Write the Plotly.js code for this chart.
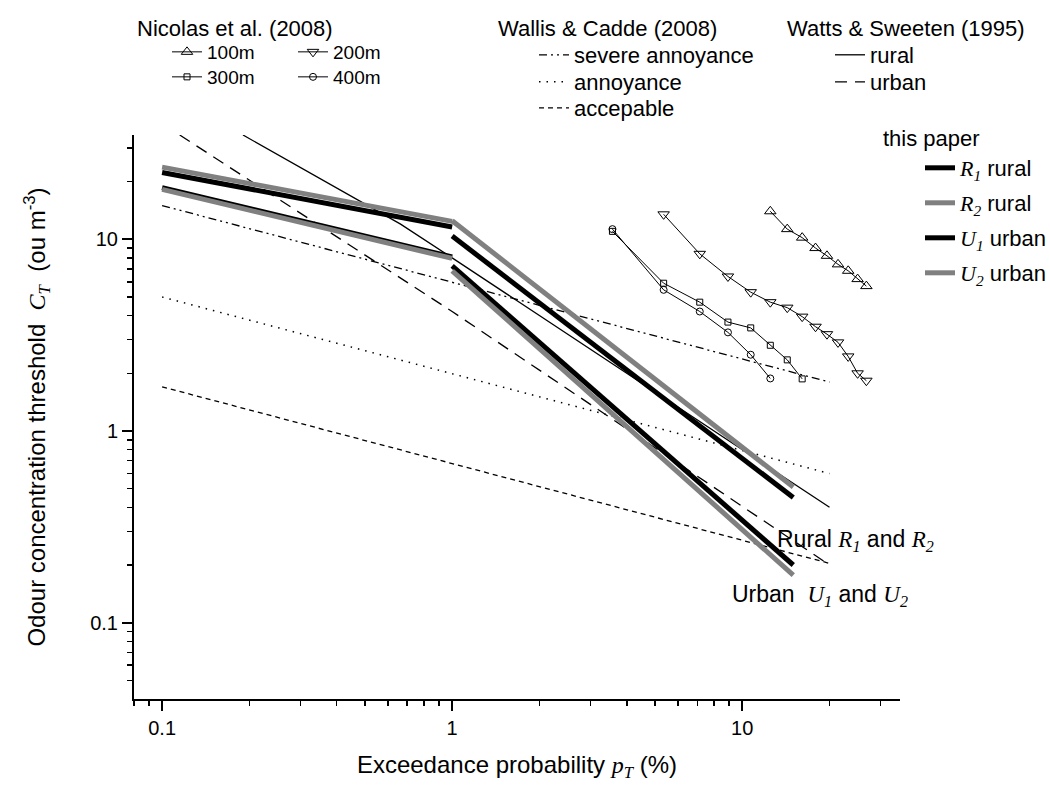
<!DOCTYPE html>
<html>
<head>
<meta charset="utf-8">
<script src="https://cdn.plot.ly/plotly-3.0.1.min.js"></script>
<style>html,body{margin:0;padding:0;background:#fff;}#chart{width:1050px;height:787px;}</style>
</head>
<body>
<div id="chart"></div>
<script>
// ---- data ----
const nicX100 = [12.5, 14.3, 16.1, 17.9, 19.6, 21.4, 23.2, 25.0, 26.8];
const nicY100 = [14.0, 11.3, 10.2, 9.0, 8.2, 7.4, 6.85, 6.2, 5.7];
const nicX200 = [5.36, 7.14, 8.93, 10.7, 12.5, 14.3, 16.1, 17.9, 19.6, 21.4, 23.2, 25.0, 26.8];
const nicY200 = [13.5, 8.4, 6.4, 5.3, 4.7, 4.4, 3.95, 3.5, 3.2, 2.9, 2.45, 2.0, 1.83];
const nicX300 = [3.57, 5.36, 7.14, 8.93, 10.7, 12.5, 14.3, 16.1];
const nicY300 = [11.0, 5.9, 4.7, 3.7, 3.45, 2.8, 2.35, 1.87];
const nicX400 = [3.57, 5.36, 7.14, 8.93, 10.7, 12.5];
const nicY400 = [11.3, 5.45, 4.2, 3.27, 2.5, 1.88];

const wcX = [0.1, 20];
const wcSevere = [15, 1.8];
const wcAnnoy = [5, 0.6];
const wcAccept = [1.7, 0.204];

const wsRuralX = [0.19, 0.664, 1, 3.7, 20];
const wsRuralY = [35, 12, 8, 2.16, 0.4];
const wsUrbanX = [0.115, 1, 20];
const wsUrbanY = [35, 4.2, 0.2];

const paperX = [0.1, 1, null, 1, 15];
const r1Y = [22.3, 11.6, null, 10.4, 0.45];
const r2Y = [23.8, 12.4, null, 12.5, 0.51];
const u1Y = [18.6, 8.1, null, 7.27, 0.20];
const u2Y = [18.2, 7.95, null, 6.85, 0.177];

const xTickVals = [0.1, 1, 10];
const xTickText = ['0.1', '1', '10'];
const xMinorVals = [0.08, 0.09, 0.2, 0.3, 0.4, 0.5, 0.6, 0.7, 0.8, 0.9, 2, 3, 4, 5, 6, 7, 8, 9, 20, 30];
const yTickVals = [0.1, 1, 10];
const yTickText = ['0.1', '1', '10'];
const yMinorVals = [0.05, 0.06, 0.07, 0.08, 0.09, 0.2, 0.3, 0.4, 0.5, 0.6, 0.7, 0.8, 0.9, 2, 3, 4, 5, 6, 7, 8, 9, 20, 30];

const legendNames = {
  n100: '100m', n200: '200m', n300: '300m', n400: '400m',
  severe: 'severe annoyance', annoy: 'annoyance', accept: 'accepable',
  wsR: 'rural', wsU: 'urban'
};
const sv = s => '<span style="font-family:Liberation Serif">' + s + '</span>';
const paperNames = [
  sv('<i>R<sub>1</sub></i>') + ' rural',
  sv('<i>R<sub>2</sub></i>') + ' rural',
  sv('<i>U<sub>1</sub></i>') + ' urban',
  sv('<i>U<sub>2</sub></i>') + ' urban'
];

// ---- layout helpers ----
const FONT = 'Liberation Sans, Arial, sans-serif';
const PL = 134, PR = 900, PT = 135, PB = 699;
const PW = PR - PL, PH = PB - PT;
const px2x = p => (p - PL) / PW;
const py2y = p => (PB - p) / PH;
function leg(textLeft, cy, size) {
  return {x: px2x(textLeft - 40), y: py2y(cy), xanchor: 'left', yanchor: 'middle',
          bgcolor: 'rgba(0,0,0,0)', borderwidth: 0, itemwidth: 30,
          font: {family: FONT, size: size, color: '#000'}};
}

const BLACK = '#000000', GRAY = '#808080';
const traces = [];
// Wallis & Cadde
traces.push({x: wcX, y: wcSevere, name: legendNames.severe, mode: 'lines', legend: 'legend5',
  line: {color: BLACK, width: 1.3, dash: '8px,4px,2px,4px,2px,4px'}});
traces.push({x: wcX, y: wcAnnoy, name: legendNames.annoy, mode: 'lines', legend: 'legend6',
  line: {color: BLACK, width: 1.5, dash: '1.5px,6px'}});
traces.push({x: wcX, y: wcAccept, name: legendNames.accept, mode: 'lines', legend: 'legend7',
  line: {color: BLACK, width: 1.3, dash: '5px,4px'}});
// Watts & Sweeten
traces.push({x: wsRuralX, y: wsRuralY, name: legendNames.wsR, mode: 'lines', legend: 'legend8',
  line: {color: BLACK, width: 1.3}});
traces.push({x: wsUrbanX, y: wsUrbanY, name: legendNames.wsU, mode: 'lines', legend: 'legend9',
  line: {color: BLACK, width: 1.3, dash: '12px,8px'}});
// this paper
traces.push({x: paperX, y: r1Y, name: paperNames[0], mode: 'lines', legend: 'legend10', connectgaps: false,
  line: {color: BLACK, width: 5}});
traces.push({x: paperX, y: r2Y, name: paperNames[1], mode: 'lines', legend: 'legend11', connectgaps: false,
  line: {color: GRAY, width: 5}});
traces.push({x: paperX, y: u1Y, name: paperNames[2], mode: 'lines', legend: 'legend12', connectgaps: false,
  line: {color: BLACK, width: 5}});
traces.push({x: paperX, y: u2Y, name: paperNames[3], mode: 'lines', legend: 'legend13', connectgaps: false,
  line: {color: GRAY, width: 5}});
// Nicolas et al.
const mk = (sym, size) => ({symbol: sym, size: size, color: BLACK, line: {color: BLACK, width: 1}});
traces.push({x: nicX100, y: nicY100, name: legendNames.n100, mode: 'lines+markers', legend: 'legend',
  line: {color: BLACK, width: 1}, marker: mk('triangle-up-open', 10)});
traces.push({x: nicX200, y: nicY200, name: legendNames.n200, mode: 'lines+markers', legend: 'legend2',
  line: {color: BLACK, width: 1}, marker: mk('triangle-down-open', 10)});
traces.push({x: nicX300, y: nicY300, name: legendNames.n300, mode: 'lines+markers', legend: 'legend3',
  line: {color: BLACK, width: 1}, marker: mk('square-open', 6)});
traces.push({x: nicX400, y: nicY400, name: legendNames.n400, mode: 'lines+markers', legend: 'legend4',
  line: {color: BLACK, width: 1}, marker: mk('circle-open', 7)});

function ann(text, left, cy, size) {
  return {text: text, xref: 'paper', yref: 'paper', x: px2x(left - 2), y: py2y(cy),
          xanchor: 'left', yanchor: 'middle', showarrow: false,
          font: {family: FONT, size: size, color: '#000'}};
}

const axisCommon = {
  type: 'log', showline: true, linewidth: 2, linecolor: BLACK, mirror: false,
  showgrid: false, zeroline: false, ticks: 'outside', ticklen: 10, tickwidth: 2, tickcolor: BLACK,
  tickmode: 'array', automargin: false,
  tickfont: {family: FONT, size: 20, color: BLACK}
};

const layout = {
  width: 1050, height: 787,
  paper_bgcolor: '#fff', plot_bgcolor: '#fff',
  margin: {l: PL, r: 1050 - PR, t: PT, b: 787 - PB, autoexpand: false},
  font: {family: FONT, color: BLACK},
  xaxis: Object.assign({}, axisCommon, {
    range: [Math.log10(0.08), Math.log10(35)],
    tickvals: xTickVals, ticktext: xTickText,
    minor: {tickmode: 'array', tickvals: xMinorVals, ticks: 'outside', ticklen: 5, tickwidth: 1.5, tickcolor: BLACK, showgrid: false},
    title: {text: 'Exceedance probability ' + sv('<i>p</i><sub><i>T</i></sub>') + ' (%)',
            font: {family: FONT, size: 24, color: BLACK}, standoff: 18}
  }),
  yaxis: Object.assign({}, axisCommon, {
    range: [Math.log10(0.04), Math.log10(35)],
    tickvals: yTickVals, ticktext: yTickText,
    minor: {tickmode: 'array', tickvals: yMinorVals, ticks: 'outside', ticklen: 5, tickwidth: 1.5, tickcolor: BLACK, showgrid: false},
    title: {text: 'Odour concentration threshold&nbsp; ' + sv('<i>C</i><sub><i>T</i></sub>') + '&nbsp; (ou m<sup>-3</sup>)',
            font: {family: FONT, size: 24, color: BLACK}, standoff: 38}
  }),
  legend: leg(207, 52, 19),
  legend2: leg(333, 52, 19),
  legend3: leg(207, 77, 19),
  legend4: leg(333, 77, 19),
  legend5: leg(574, 55, 22),
  legend6: leg(574, 82, 22),
  legend7: leg(574, 108, 22),
  legend8: leg(870, 55, 22),
  legend9: leg(870, 82, 22),
  legend10: leg(960, 168, 22),
  legend11: leg(960, 203, 22),
  legend12: leg(960, 238, 22),
  legend13: leg(960, 273, 22),
  annotations: [
    ann('Nicolas et al. (2008)', 137, 28, 22),
    ann('Wallis &amp; Cadde (2008)', 498, 28, 22),
    ann('Watts &amp; Sweeten (1995)', 787, 28, 22),
    ann('this paper', 883, 138, 22),
    ann('Rural ' + sv('<i>R<sub>1</sub></i>') + ' and ' + sv('<i>R<sub>2</sub></i>'), 777, 540, 23),
    ann('Urban&nbsp; ' + sv('<i>U<sub>1</sub></i>') + ' and ' + sv('<i>U<sub>2</sub></i>'), 732, 595, 23)
  ],
  showlegend: true
};

Plotly.newPlot('chart', traces, layout, {staticPlot: true, displayModeBar: false});
</script>
</body>
</html>
